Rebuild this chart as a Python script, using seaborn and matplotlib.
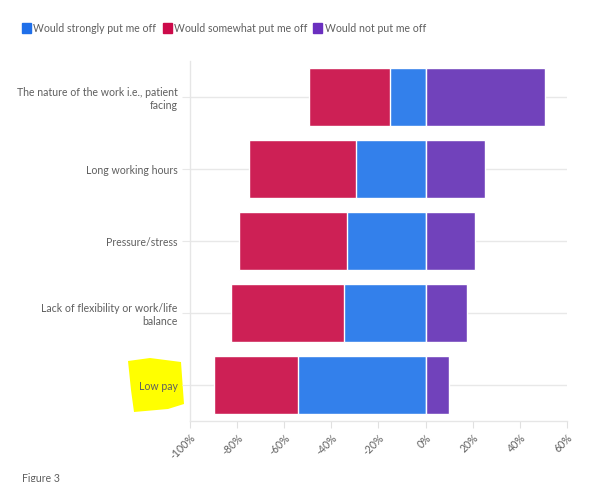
import numpy as np
import pandas as pd
import matplotlib
matplotlib.use("Agg")
import matplotlib.pyplot as plt
from matplotlib.patches import Patch, Polygon
import seaborn as sns

# --- data --- #
categories = ["The nature of the work i.e., patient\nfacing",
              "Long working hours",
              "Pressure/stress",
              "Lack of flexibility or work/life\nbalance",
              "Low pay"]
strongly = [15, 29.5, 33.5, 34.5, 54]
somewhat = [34.5, 45.5, 45.5, 48, 36]
not_off = [50.5, 25, 21, 17.5, 10]
series = ["Would strongly put me off", "Would somewhat put me off", "Would not put me off"]
x_ticks = [-100, -80, -60, -40, -20, 0, 20, 40, 60]

bar_colors = ["#3380eb", "#cd2055", "#7142bb"]
key_colors = ["#1f6fe9", "#cc0a4a", "#6a2fbf"]
grey = "#5f5f5f"
fs = 7.6

df = pd.DataFrame({"cat": categories,
                   "strong": -np.array(strongly),
                   "neg_total": -(np.array(strongly) + np.array(somewhat)),
                   "pos": not_off})

sns.set_style("white")
plt.rcParams["font.family"] = ["Lato", "DejaVu Sans"]

W, H = 591, 482
fig = plt.figure(figsize=(W / 100, H / 100), dpi=100)
ax = fig.add_axes([190 / W, 1 - 421 / H, 377 / W, 360 / H])

# horizontal grid at category centres
for i in range(len(categories)):
    ax.axhline(i, color="#e8e8e8", lw=1, zorder=0)

kw = dict(orient="h", width=0.8, edgecolor="white", linewidth=1, saturation=1, ax=ax, zorder=2)
sns.barplot(data=df, x="neg_total", y="cat", color=bar_colors[1], **kw)
sns.barplot(data=df, x="strong", y="cat", color=bar_colors[0], **kw)
sns.barplot(data=df, x="pos", y="cat", color=bar_colors[2], **kw)

ax.set_xlim(-100, 60)
ax.set_ylim(len(categories) - 0.5, -0.5)
ax.set_xticks(x_ticks)
ax.set_xticklabels([f"{t}%" for t in x_ticks], rotation=45, ha="right",
                   rotation_mode="anchor", color=grey, fontsize=fs)
ax.set_yticks(range(len(categories)))
ax.set_yticklabels(categories, color=grey, fontsize=fs)
ax.set_xlabel("")
ax.set_ylabel("")
ax.tick_params(axis="x", length=5, color="#e0e0e0", pad=3, direction="out", bottom=True)
ax.tick_params(axis="y", length=6, color="#e8e8e8", pad=3, left=True)
for s in ["top", "right"]:
    ax.spines[s].set_visible(False)
for s in ["left", "bottom"]:
    ax.spines[s].set_color("#e6e6e6")
    ax.spines[s].set_linewidth(1)

# legend
handles = [Patch(facecolor=c, edgecolor=c, label=l) for c, l in zip(key_colors, series)]
fig.legend(handles=handles, loc="center left", bbox_to_anchor=(18 / W, 1 - 28 / H),
           ncol=3, frameon=False, fontsize=fs, labelcolor=grey,
           handlelength=0.85, handleheight=1.1, handletextpad=0.2, columnspacing=0.6,
           borderaxespad=0)

# yellow highlight drawn over "Low pay"
blob = [(128, 361), (150, 358), (181, 362), (184, 404), (168, 409), (134, 412), (131, 390)]
fig.patches.append(Polygon([(x / W, 1 - y / H) for x, y in blob], closed=True,
                           facecolor="#ffff00", edgecolor="none",
                           transform=fig.transFigure, zorder=-1))

fig.text(22 / W, 1 - 473 / H, "Figure 3", color=grey, fontsize=fs, va="top", ha="left")

fig.savefig("out.png", dpi=100, facecolor="white")
